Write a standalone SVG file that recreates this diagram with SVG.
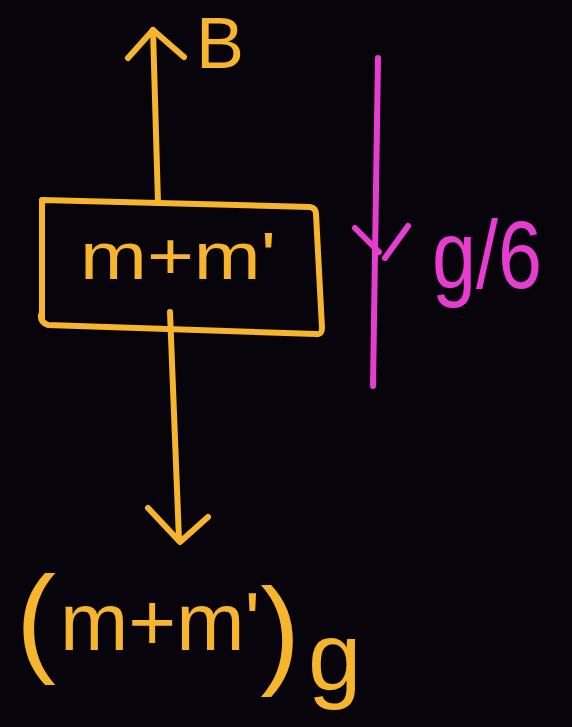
<svg xmlns="http://www.w3.org/2000/svg" width="572" height="727" viewBox="0 0 572 727">
<style>
.y{stroke:#f6b52c;stroke-width:6;fill:none;stroke-linecap:round;stroke-linejoin:round}
.p{stroke:#e63ccf;stroke-width:6;fill:none;stroke-linecap:round;stroke-linejoin:round}
.ty{fill:#f6b52c;font-family:"Liberation Sans",Arial,sans-serif}
.tp{fill:#e63ccf;font-family:"Liberation Sans",Arial,sans-serif}
</style>
<rect width="572" height="727" fill="#07040c"/>
<g id="connectors">
<path class="y" d="M158,203 L153,30"/>
<path class="y" d="M128,58 L153,30 L184,57"/>
<path class="y" d="M170,312 L179,540"/>
<path class="y" d="M148,508 L180,542 L208,517"/>
<path class="p" d="M378,58 L373,386"/>
<path class="p" d="M355,228 L379,252 M408,226 L385,258"/>
</g>
<g id="block">
<path class="y" d="M42,320 L42,200 L310,207 Q316,208 316,214 L322,328 Q322,335 316,334 L48,325 Q40,322 41,315"/>
<text class="ty" x="80" y="279" font-size="66" textLength="196" lengthAdjust="spacingAndGlyphs">m+m'</text>
</g>
<g id="label-B">
<text class="ty" x="196" y="68" font-size="72">B</text>
</g>
<g id="label-accel">
<text class="tp" x="432" y="288" font-size="96" textLength="110" lengthAdjust="spacingAndGlyphs">g/6</text>
</g>
<g id="label-weight">
<text class="ty" x="16" y="660"><tspan font-size="120">(</tspan><tspan font-size="82" dx="4" dy="-10">m+m'</tspan><tspan font-size="120" dy="22">)</tspan><tspan font-size="96" dx="8" dy="18">g</tspan></text>
</g>
</svg>
